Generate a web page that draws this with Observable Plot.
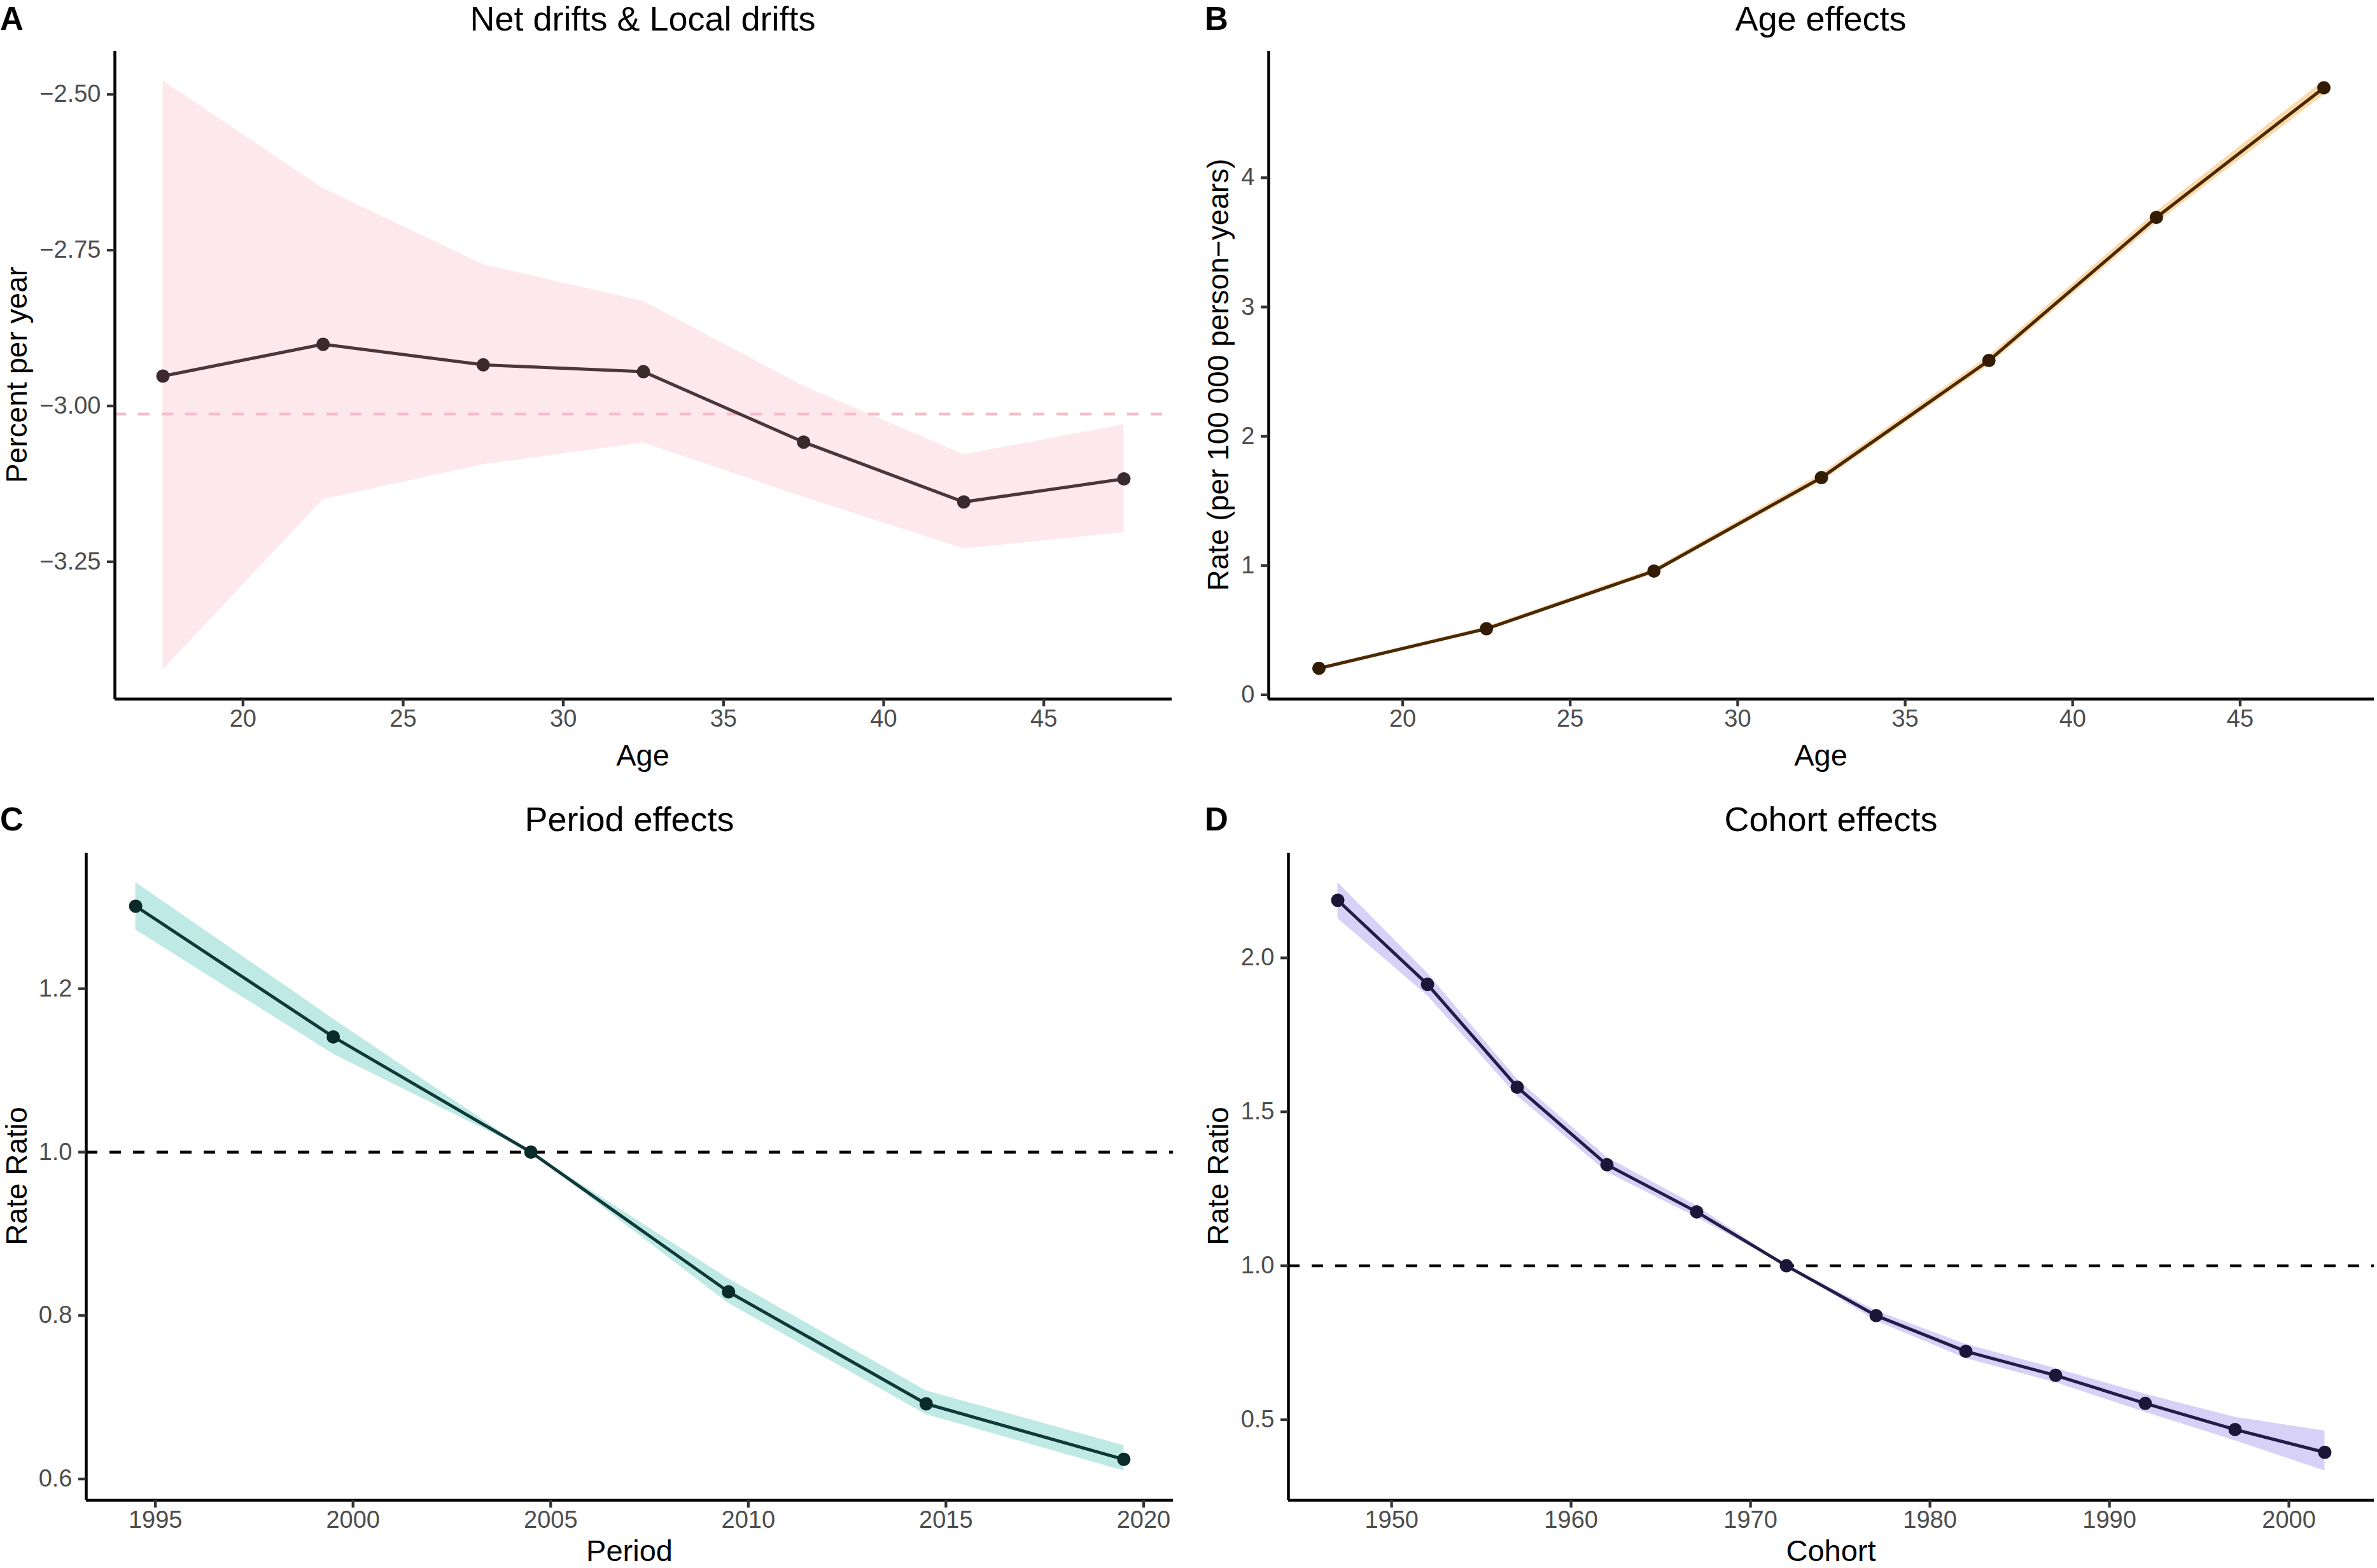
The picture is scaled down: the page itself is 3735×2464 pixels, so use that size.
<!DOCTYPE html>
<html>
<head>
<meta charset="utf-8">
<script src="https://cdn.jsdelivr.net/npm/d3@7"></script>
<script src="https://cdn.jsdelivr.net/npm/@observablehq/plot@0.6"></script>
<style>
  html, body { margin: 0; padding: 0; background: #ffffff; }
  #page { position: relative; width: 3735px; height: 2464px; background: #ffffff; overflow: hidden;
          font-family: "Liberation Sans", Arial, Helvetica, sans-serif; }
  .panel { position: absolute; }
  #overlay { position: absolute; left: 0; top: 0; pointer-events: none; }
</style>
</head>
<body>
<div id="page">
  <div class="panel" id="pA" style="left:0px;top:0px"></div>
  <div class="panel" id="pB" style="left:1870px;top:0px"></div>
  <div class="panel" id="pC" style="left:0px;top:1232px"></div>
  <div class="panel" id="pD" style="left:1870px;top:1232px"></div>
</div>
<script>
// ---------------- data ----------------
const ages = [17.5, 22.5, 27.5, 32.5, 37.5, 42.5, 47.5];
const localDrift = [-2.952, -2.901, -2.934, -2.945, -3.058, -3.154, -3.117];
const localDriftLower = [-3.423, -3.150, -3.094, -3.059, -3.146, -3.229, -3.203];
const localDriftUpper = [-2.478, -2.651, -2.773, -2.832, -2.968, -3.078, -3.030];
const netDrift = -3.013;

const ageRate = [0.205, 0.511, 0.957, 1.680, 2.586, 3.693, 4.696];
const ageRateLower = [0.195, 0.496, 0.937, 1.650, 2.551, 3.648, 4.641];
const ageRateUpper = [0.215, 0.526, 0.977, 1.710, 2.621, 3.738, 4.751];

const periods = [1994.5, 1999.5, 2004.5, 2009.5, 2014.5, 2019.5];
const periodRR = [1.301, 1.141, 1.000, 0.829, 0.692, 0.624];
const periodLower = [1.272, 1.120, 1.000, 0.815, 0.679, 0.610];
const periodUpper = [1.330, 1.163, 1.000, 0.845, 0.708, 0.641];

const cohorts = [1947, 1952, 1957, 1962, 1967, 1972, 1977, 1982, 1987, 1992, 1997, 2002];
const cohortRR = [2.187, 1.914, 1.580, 1.328, 1.175, 1.000, 0.838, 0.722, 0.644, 0.553, 0.468, 0.394];
const cohortLower = [2.128, 1.877, 1.552, 1.304, 1.157, 1.000, 0.821, 0.699, 0.621, 0.524, 0.432, 0.334];
const cohortUpper = [2.245, 1.950, 1.606, 1.352, 1.195, 1.000, 0.854, 0.745, 0.667, 0.583, 0.508, 0.464];

const ageTicks = [20, 25, 30, 35, 40, 45];
const driftTicks = [-2.50, -2.75, -3.00, -3.25];
const rateTicks = [0, 1, 2, 3, 4];
const periodTicks = [1995, 2000, 2005, 2010, 2015, 2020];
const periodRRTicks = [0.6, 0.8, 1.0, 1.2];
const cohortTicks = [1950, 1960, 1970, 1980, 1990, 2000];
const cohortRRTicks = [0.5, 1.0, 1.5, 2.0];

const panelTitles = ["Net drifts & Local drifts", "Age effects", "Period effects", "Cohort effects"];
const panelLetters = ["A", "B", "C", "D"];
const xTitles = ["Age", "Age", "Period", "Cohort"];
const yTitles = ["Percent per year", "Rate (per 100 000 person\u2212years)", "Rate Ratio", "Rate Ratio"];

// ---------------- helpers ----------------
const FONT = '"Liberation Sans", Arial, Helvetica, sans-serif';
const rows = (xs, ys, lo, hi) => xs.map((x, i) => ({x, y: ys[i], lo: lo[i], hi: hi[i]}));
const expand = (vals) => { const [a, b] = d3.extent(vals); const p = (b - a) * 0.05; return [a - p, b + p]; };
const minus = s => s.replace("-", "\u2212");

function panel({data, xTicks, yTicks, yFmt, band, line, dot, hline, hlineColor, m, w, h}) {
  const xDom = expand(data.map(d => d.x));
  const yDom = expand(data.flatMap(d => [d.lo, d.hi, d.y]));
  const marks = [
    Plot.areaY(data, {x: "x", y1: "lo", y2: "hi", fill: band, fillOpacity: 1}),
  ];
  if (hline != null) marks.push(Plot.ruleY([hline], {stroke: hlineColor, strokeWidth: 4.3, strokeDasharray: "18,19"}));
  marks.push(
    Plot.line(data, {x: "x", y: "y", stroke: line, strokeWidth: 5}),
    Plot.dot(data, {x: "x", y: "y", r: 10.5, fill: dot, stroke: "none"}),
    Plot.ruleX([xDom[0]], {stroke: "#000", strokeWidth: 4.5}),
    Plot.ruleY([yDom[0]], {stroke: "#000", strokeWidth: 4.5}),
    Plot.axisX({ticks: xTicks, tickSize: 12, tickPadding: 5, fontSize: 38, label: null,
                stroke: "#333333", strokeWidth: 4.3, fill: "#4D4D4D", tickFormat: d => String(d)}),
    Plot.axisY({ticks: yTicks, tickSize: 12, tickPadding: 10, fontSize: 38, label: null,
                stroke: "#333333", strokeWidth: 4.3, fill: "#4D4D4D", tickFormat: yFmt})
  );
  return Plot.plot({
    width: w, height: h,
    marginLeft: m[0], marginTop: m[1], marginRight: m[2], marginBottom: m[3],
    x: {domain: xDom, nice: false},
    y: {domain: yDom, nice: false},
    style: {fontFamily: FONT, fontSize: "38px", background: "transparent", overflow: "visible"},
    marks
  });
}

// ---------------- panels ----------------
document.getElementById("pA").append(panel({
  data: rows(ages, localDrift, localDriftLower, localDriftUpper),
  xTicks: ageTicks, yTicks: driftTicks, yFmt: d => minus(d.toFixed(2)),
  band: "#FDE8EE", line: "#4A373C", dot: "#3A2A2F", hline: netDrift, hlineColor: "#F7BCC9",
  m: [180, 80, 29, 134], w: 1870, h: 1232
}));
document.getElementById("pB").append(panel({
  data: rows(ages, ageRate, ageRateLower, ageRateUpper),
  xTicks: ageTicks, yTicks: rateTicks, yFmt: d => String(d),
  band: "#FBD9AB", line: "#4A2A05", dot: "#331C03",
  m: [123, 80, 5, 134], w: 1865, h: 1232
}));
document.getElementById("pC").append(panel({
  data: rows(periods, periodRR, periodLower, periodUpper),
  xTicks: periodTicks, yTicks: periodRRTicks, yFmt: d => d.toFixed(1),
  band: "#BEE9E4", line: "#10393A", dot: "#0B2A2A", hline: 1, hlineColor: "#000000",
  m: [135, 108, 27, 107], w: 1870, h: 1232
}));
document.getElementById("pD").append(panel({
  data: rows(cohorts, cohortRR, cohortLower, cohortUpper),
  xTicks: cohortTicks, yTicks: cohortRRTicks, yFmt: d => d.toFixed(1),
  band: "#D7D1F8", line: "#251D48", dot: "#1C1638", hline: 1, hlineColor: "#000000",
  m: [154, 108, 5, 107], w: 1865, h: 1232
}));

// ---------------- titles and labels ----------------
const ov = d3.select("#page").append("svg").attr("id", "overlay")
  .attr("width", 3735).attr("height", 2464).style("font-family", FONT);
const letterPos = [[0, 47], [1893, 47], [0, 1305], [1893, 1305]];
const titlePos = [[1010, 48], [2861, 48], [989, 1306], [2877, 1306]];
const xTitlePos = [[1010, 1203], [2861, 1203], [989, 2453], [2877, 2453]];
const yTitlePos = [[42, 589], [1930, 589], [42, 1848], [1930, 1848]];
panelLetters.forEach((t, i) => ov.append("text").attr("x", letterPos[i][0]).attr("y", letterPos[i][1])
  .attr("font-size", 51).attr("font-weight", "bold").attr("fill", "#000").text(t));
panelTitles.forEach((t, i) => ov.append("text").attr("x", titlePos[i][0]).attr("y", titlePos[i][1])
  .attr("font-size", 54).attr("text-anchor", "middle").attr("fill", "#000").text(t));
xTitles.forEach((t, i) => ov.append("text").attr("x", xTitlePos[i][0]).attr("y", xTitlePos[i][1])
  .attr("font-size", 47).attr("text-anchor", "middle").attr("fill", "#000").text(t));
yTitles.forEach((t, i) => ov.append("text")
  .attr("transform", `translate(${yTitlePos[i][0]},${yTitlePos[i][1]}) rotate(-90)`)
  .attr("font-size", 46).attr("text-anchor", "middle").attr("fill", "#000").text(t));
</script>
</body>
</html>
